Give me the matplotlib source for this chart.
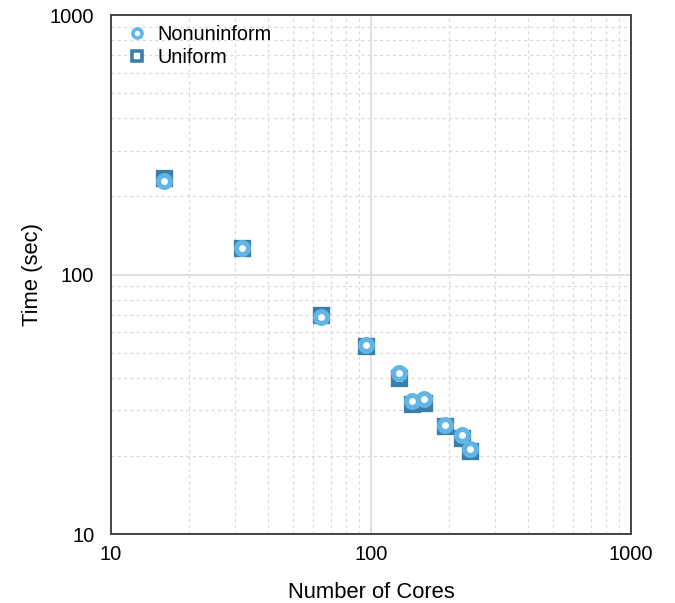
import matplotlib
matplotlib.use("Agg")
import matplotlib.pyplot as plt
from matplotlib.lines import Line2D
from matplotlib.ticker import LogLocator, NullFormatter, FixedLocator, FixedFormatter

plt.rcParams['font.family'] = ['Liberation Sans', 'DejaVu Sans']

cores = [16, 32, 64, 96, 128, 144, 160, 192, 224, 240]
time_nonuniform = [229, 126, 68.6, 53.3, 41.9, 32.6, 33.2, 26.3, 24.1, 21.3]
time_uniform = [235, 127, 69.8, 53.0, 39.8, 31.8, 32.1, 26.0, 23.4, 20.8]
x_ticks = [10, 100, 1000]
y_ticks = [10, 100, 1000]

c_circle = '#62b6e6'
c_square = '#3a7fa7'

fig = plt.figure(figsize=(6.75, 6.03), dpi=100)
ax = fig.add_axes([0.1644, 0.1144, 0.9348 - 0.1644, 0.9751 - 0.1144])
ax.set_xscale('log')
ax.set_yscale('log')
ax.set_xlim(10, 1000)
ax.set_ylim(10, 1000)

ax.plot(cores, time_uniform, linestyle='none', marker='s', markersize=9.2,
        markeredgewidth=3.8, markeredgecolor=c_square, markerfacecolor='white', zorder=3)
ax.plot(cores, time_nonuniform, linestyle='none', marker='o', markersize=8.6,
        markeredgewidth=3.6, markeredgecolor=c_circle, markerfacecolor='white', zorder=4)

ax.xaxis.set_major_locator(FixedLocator(x_ticks))
ax.xaxis.set_major_formatter(FixedFormatter([str(v) for v in x_ticks]))
ax.yaxis.set_major_locator(FixedLocator(y_ticks))
ax.yaxis.set_major_formatter(FixedFormatter([str(v) for v in y_ticks]))
ax.xaxis.set_minor_locator(LogLocator(base=10, subs=range(2, 10)))
ax.yaxis.set_minor_locator(LogLocator(base=10, subs=range(2, 10)))
ax.xaxis.set_minor_formatter(NullFormatter())
ax.yaxis.set_minor_formatter(NullFormatter())

ax.grid(which='major', color='#d9d9d9', linewidth=1.2, linestyle='-')
ax.grid(which='minor', color='#d9d9d9', linewidth=0.9, linestyle=(0, (2.5, 2.5)))
ax.set_axisbelow(True)

ax.tick_params(which='both', length=0)
ax.tick_params(axis='x', labelsize=14.5, pad=8)
ax.tick_params(axis='y', labelsize=14.5, pad=12)

for s in ax.spines.values():
    s.set_color('#444444')
    s.set_linewidth(1.4)

ax.set_xlabel('Number of Cores', fontsize=15.8, labelpad=13)
ax.set_ylabel('Time (sec)', fontsize=15.8, labelpad=5)

handles = [
    Line2D([], [], linestyle='none', marker='o', markersize=6.5, markeredgewidth=2.6,
           markeredgecolor=c_circle, markerfacecolor='white', label='Nonuninform'),
    Line2D([], [], linestyle='none', marker='s', markersize=6.5, markeredgewidth=2.6,
           markeredgecolor=c_square, markerfacecolor='white', label='Uniform'),
]
ax.legend(handles=handles, loc='upper left', frameon=False, fontsize=14.3,
          handlelength=1.0, handletextpad=0.55, labelspacing=0.2,
          borderaxespad=0.4, bbox_to_anchor=(0.0, 1.012))

fig.savefig('out.png', dpi=100)
